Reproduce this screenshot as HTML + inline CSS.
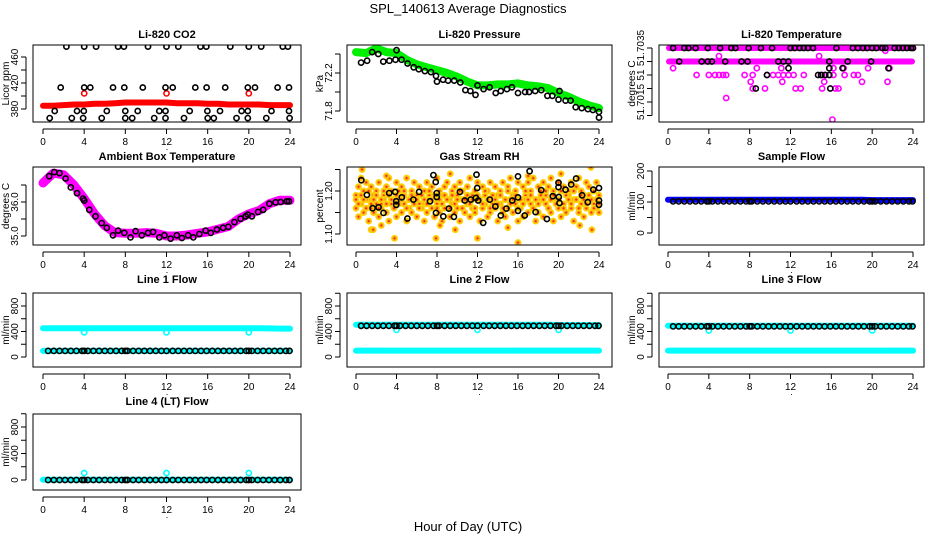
<!DOCTYPE html>
<html><head><meta charset="utf-8">
<style>
html,body{margin:0;padding:0;background:#fff;}
svg{display:block;font-family:"Liberation Sans",sans-serif;}
</style></head>
<body>
<svg id="chart" width="936" height="540" viewBox="0 0 936 540" xmlns="http://www.w3.org/2000/svg">
<rect x="0" y="0" width="936" height="540" fill="#fff"/>
<text x="468" y="13" text-anchor="middle" font-size="13">SPL_140613  Average Diagnostics</text>
<text x="468" y="531" text-anchor="middle" font-size="13">Hour of Day (UTC)</text>
</svg>
<script>
// ---- data ----
const bandHours = [0,1,2,3,4,5,6,7,8,9,10,11,12,13,14,15,16,17,18,19,20,21,22,23,24];
const xTicks = [0,4,8,12,16,20,24];
const flowHours = [0.5,1.05,1.6,2.15,2.7,3.25,3.8,4.0,4.35,4.9,5.45,6.0,6.55,7.1,7.65,8.0,8.2,8.75,9.3,9.85,10.4,10.95,11.5,12.0,12.6,13.15,13.7,14.25,14.8,15.35,15.9,16.45,17.0,17.55,18.1,18.65,19.2,19.75,20.0,20.3,20.85,21.4,21.95,22.5,23.05,23.6,23.95];
const outlierHours = [4,12,20];

// CO2
const co2Red = [385,385,386,387,387,388,388,389,390,390,390,390,390,389,389,389,388,388,387,387,387,387,386,386,386];
const co2RedOutliers = [404,404,404];
const co2TopHours = [2.27,4.0,5.16,7.3,7.86,10.2,12.0,13.15,15.3,15.87,18.2,20.0,21.2,23.3,23.8];
const co2TopVals = [476,476,476,476,476,476,476,476,476,476,476,476,476,476,476];
const co2MidHours = [1.72,4.0,4.6,6.8,7.9,9.7,11.9,12.6,14.8,15.9,17.7,19.9,20.6,22.8,23.9];
const co2MidVals = [413,413,413,413,413,413,413,413,413,413,413,413,413,413,413];
const co2LowHours = [1.14,3.3,3.96,6.2,8.0,9.2,11.3,11.9,14.25,15.97,17.2,19.3,19.9,22.2,23.9];
const co2LowVals = [377,377,377,377,377,377,377,377,377,377,377,377,377,377,377];
const co2BotHours = [0.65,2.8,3.9,5.7,8.0,8.67,10.8,11.9,13.7,16.0,16.6,18.8,19.9,21.7,23.96];
const co2BotVals = [366,366,366,366,366,366,366,366,366,366,366,366,366,366,366];

// Pressure
const presGreen = [72.42,72.41,72.46,72.42,72.41,72.34,72.29,72.26,72.23,72.20,72.16,72.11,72.07,72.07,72.08,72.08,72.09,72.07,72.06,72.04,71.99,71.95,71.90,71.86,71.83];
const presBlackHours = [0.5,1.1,1.6,2.2,2.7,3.3,3.9,4.0,4.5,5.1,5.7,6.2,6.8,7.4,7.9,8.0,8.6,9.1,9.7,10.3,10.8,11.3,11.8,12.0,12.6,13.2,13.8,14.3,14.9,15.4,16.0,16.7,17.1,17.7,18.3,18.9,19.4,20.0,20.1,20.7,21.2,21.7,22.3,22.9,23.4,24.0,24.0];
const presBlackVals = [72.31,72.33,72.42,72.40,72.32,72.33,72.34,72.44,72.34,72.30,72.26,72.24,72.22,72.21,72.17,72.11,72.13,72.12,72.12,72.10,72.02,72.01,71.97,72.07,72.03,72.05,71.99,72.01,72.03,72.05,71.99,72.00,72.00,72.01,72.02,71.96,71.96,71.92,72.01,71.91,71.91,71.84,71.83,71.82,71.81,71.79,71.73];

// Li-820 temperature
const tempTopBand = [51.7035,51.7035];
const tempMidBand = [51.7030,51.7030];
const tempBandHours = [0.1,23.9];
const tempMagHours = [0.5,8.7,11.1,16.2,17.2,19.6,21.7, 2.8,4.0,4.6,5.0,5.4,5.7,7.5,8.3,9.7,10.3,10.8,11.3,11.8,12.3,13.3,15.1,15.4,16.2,17.3,18.2,18.6, 8.1,11.2,15.3,19.0,21.5, 8.3,9.5,12.5,13.0,15.1,16.4,16.7, 5.7,16.1, 14.8,5.0,21.3];
const tempMagVals = [51.70275,51.70275,51.70275,51.70275,51.70275,51.70275,51.70275, 51.7025,51.7025,51.7025,51.7025,51.7025,51.7025,51.7025,51.7025,51.7025,51.7025,51.7025,51.7025,51.7025,51.7025,51.7025,51.7025,51.7025,51.7025,51.7025,51.7025,51.7025, 51.70225,51.70225,51.70225,51.70225,51.70225, 51.7020,51.7020,51.7020,51.7020,51.7020,51.7020,51.7020, 51.70165,51.70085, 51.7032,51.7032,51.7034];
const tempBlackHours = [0.5,1.6,2.0,2.7,3.9,5.1,6.2,6.6,7.9,9.1,10.2,12.0,12.4,12.9,13.3,13.7,14.2,16.5,18.1,18.6,19.1,19.5,20.0,20.4,21.0,21.3,22.2,22.6,23.0,23.4,23.8,24.0, 1.1,3.3,3.9,4.3,5.6,7.2,7.8,10.8,11.3,11.8,15.8,17.6,19.9, 11.8,15.8,17.1,21.6, 9.7,14.7,15.0,15.4,15.8, 8.6,15.9];
const tempBlackVals = [51.7035,51.7035,51.7035,51.7035,51.7035,51.7035,51.7035,51.7035,51.7035,51.7035,51.7035,51.7035,51.7035,51.7035,51.7035,51.7035,51.7035,51.7035,51.7035,51.7035,51.7035,51.7035,51.7035,51.7035,51.7035,51.7035,51.7035,51.7035,51.7035,51.7035,51.7035,51.7035, 51.7030,51.7030,51.7030,51.7030,51.7030,51.7030,51.7030,51.7030,51.7030,51.7030,51.7030,51.7030,51.7030, 51.70275,51.70275,51.70275,51.70275, 51.7025,51.7025,51.7025,51.7025,51.7025, 51.7020,51.7020];

// Ambient box temperature
const ambMag = [36.56,36.85,36.80,36.50,36.10,35.65,35.30,35.10,35.08,35.08,35.10,35.08,35.00,35.00,35.03,35.08,35.12,35.20,35.28,35.50,35.65,35.75,35.95,36.05,36.05];
const ambBlackHours = [0.6,1.1,1.6,2.2,2.7,3.3,3.9,4.0,4.5,5.1,5.7,6.2,6.8,7.3,7.9,8.5,9.0,9.6,10.2,10.7,11.3,11.8,12.4,13.0,13.5,14.1,14.6,15.2,15.8,16.3,16.9,17.5,18.0,18.6,19.2,19.7,19.9,20.3,20.9,21.4,22.0,22.6,23.1,23.7,23.9];
const ambBlackVals = [36.76,36.88,36.85,36.69,36.43,36.26,36.10,36.04,35.77,35.58,35.38,35.24,35.02,35.16,35.09,34.96,35.14,35.02,35.09,35.12,34.96,35.02,34.92,35.02,34.94,35.02,34.96,35.06,35.16,35.09,35.19,35.24,35.27,35.41,35.51,35.58,35.63,35.58,35.71,35.77,35.95,35.99,36.00,36.02,36.02];

// Gas stream RH
const rhHours = [0,0.25,0.5,0.75,1,1.25,1.5,1.75,2,2.25,2.5,2.75,3,3.25,3.5,3.75,4,4.25,4.5,4.75,5,5.25,5.5,5.75,6,6.25,6.5,6.75,7,7.25,7.5,7.75,8,8.25,8.5,8.75,9,9.25,9.5,9.75,10,10.25,10.5,10.75,11,11.25,11.5,11.75,12,12.25,12.5,12.75,13,13.25,13.5,13.75,14,14.25,14.5,14.75,15,15.25,15.5,15.75,16,16.25,16.5,16.75,17,17.25,17.5,17.75,18,18.25,18.5,18.75,19,19.25,19.5,19.75,20,20.25,20.5,20.75,21,21.25,21.5,21.75,22,22.25,22.5,22.75,23,23.25,23.5,23.75,24];
const rhOrangeA = [1.19,1.21,1.23,1.20,1.22,1.18,1.21,1.19,1.20,1.22,1.17,1.19,1.21,1.23,1.20,1.18,1.22,1.20,1.21,1.19,1.23,1.18,1.20,1.22,1.19,1.21,1.17,1.20,1.22,1.19,1.21,1.18,1.23,1.20,1.19,1.21,1.22,1.18,1.20,1.21,1.19,1.22,1.20,1.18,1.21,1.23,1.19,1.20,1.22,1.18,1.21,1.19,1.20,1.22,1.17,1.21,1.19,1.20,1.22,1.18,1.21,1.23,1.19,1.20,1.22,1.18,1.21,1.19,1.22,1.20,1.23,1.18,1.21,1.20,1.22,1.19,1.21,1.23,1.20,1.18,1.22,1.24,1.21,1.19,1.20,1.22,1.18,1.21,1.23,1.20,1.19,1.22,1.21,1.18,1.20,1.22,1.19];
const rhOrangeB = [1.16,1.14,1.17,1.15,1.18,1.13,1.16,1.15,1.17,1.14,1.16,1.18,1.15,1.13,1.17,1.16,1.14,1.18,1.15,1.17,1.13,1.16,1.15,1.18,1.14,1.17,1.16,1.13,1.15,1.18,1.16,1.14,1.17,1.15,1.13,1.16,1.18,1.14,1.17,1.15,1.16,1.13,1.18,1.15,1.17,1.14,1.16,1.15,1.18,1.13,1.16,1.17,1.14,1.15,1.18,1.16,1.13,1.17,1.15,1.14,1.16,1.18,1.15,1.17,1.13,1.16,1.14,1.18,1.15,1.17,1.16,1.13,1.15,1.18,1.14,1.17,1.16,1.15,1.13,1.18,1.16,1.14,1.17,1.15,1.19,1.16,1.13,1.18,1.15,1.17,1.14,1.16,1.18,1.15,1.17,1.16,1.15];
const rhOrangeC = [1.18,1.17,1.19,1.18,1.16,1.20,1.17,1.18,1.19,1.16,1.18,1.20,1.17,1.19,1.18,1.16,1.19,1.17,1.18,1.20,1.16,1.18,1.19,1.17,1.18,1.16,1.19,1.18,1.17,1.20,1.18,1.19,1.16,1.18,1.17,1.19,1.18,1.16,1.19,1.17,1.18,1.20,1.16,1.18,1.19,1.17,1.18,1.16,1.19,1.18,1.17,1.20,1.18,1.16,1.19,1.18,1.17,1.19,1.16,1.18,1.20,1.17,1.18,1.19,1.16,1.18,1.17,1.20,1.18,1.19,1.16,1.18,1.17,1.19,1.18,1.20,1.16,1.18,1.19,1.17,1.18,1.20,1.16,1.19,1.18,1.17,1.20,1.18,1.16,1.19,1.18,1.17,1.19,1.18,1.16,1.18,1.17];
const rhOutHours = [1.5,1.7,2.5,3.8,7.9,8.3,9.8,12.0,15.0,16.0,23.2,23.3,0.6,9.3,22.1,3.0,17.0];
const rhOutVals = [1.11,1.11,1.12,1.09,1.09,1.12,1.11,1.09,1.115,1.08,1.255,1.11,1.25,1.24,1.12,1.235,1.235];
const rhBlackHours = [0.52,1.08,1.64,2.23,2.72,3.28,3.87,3.97,3.97,4.52,5.08,5.67,6.23,7.31,7.64,7.87,7.97,7.97,7.9,8.62,9.18,9.67,10.26,10.75,11.34,11.84,11.9,11.97,12.07,12.56,13.21,13.77,14.3,14.85,15.44,16.0,16.0,16.0,16.66,17.15,17.74,18.3,18.85,19.44,20.0,20.0,20.03,20.1,20.69,21.25,21.74,22.33,22.89,23.44,24.0,24.0,24.0];
const rhBlackVals = [1.225,1.191,1.160,1.162,1.149,1.195,1.198,1.176,1.168,1.185,1.136,1.180,1.198,1.176,1.237,1.221,1.195,1.186,1.149,1.141,1.159,1.140,1.198,1.178,1.180,1.184,1.238,1.207,1.178,1.126,1.180,1.164,1.143,1.159,1.178,1.185,1.234,1.154,1.143,1.246,1.151,1.202,1.135,1.188,1.209,1.219,1.186,1.172,1.203,1.215,1.229,1.190,1.174,1.203,1.207,1.178,1.168];

// Flows
const sampleBlue = [107,107,107,107,107,107,107,107,107,107,107,107,107,107,107,107,107,107,107,107,106,106,106,106,106];
const sampleBlack = [102,102,102,102,102,102,102,102,102,102,102,102,102,102,102,102,102,102,102,102,102,102,102,102,102,102,102,102,102,102,102,102,102,102,102,102,102,102,102,102,102,102,102,102,102,102,102];
const line1CyanHigh = [450,450,450,450,450,450,450,450,450,450,450,450,450,450,450,450,450,450,450,450,450,450,448,446,446];
const line1CyanLow = [95,95,95,95,95,95,95,95,95,95,95,95,95,95,95,95,95,95,95,95,95,95,95,95,95];
const line1Outliers = [387,387,387];
const line1Black = [95,95,95,95,95,95,95,95,95,95,95,95,95,95,95,95,95,95,95,95,95,95,95,95,95,95,95,95,95,95,95,95,95,95,95,95,95,95,95,95,95,95,95,95,95,95,95];
const line2CyanHigh = [505,505,505,505,505,505,505,505,505,505,505,505,505,505,505,505,505,505,505,505,500,500,500,500,500];
const line2CyanLow = [100,100,100,100,100,100,100,100,100,100,100,100,100,100,100,100,100,100,100,100,100,100,100,100,100];
const line2Outliers = [425,425,425];
const line2Black = [490,490,490,490,490,490,490,490,490,490,490,490,490,490,490,490,490,490,490,490,490,490,490,490,490,490,490,490,490,490,490,490,490,490,490,490,490,490,490,490,490,490,490,490,490,490,490];
const line3CyanHigh = [490,490,490,490,490,490,490,490,490,490,490,490,490,490,490,490,490,490,490,490,490,490,490,490,490];
const line3CyanLow = [100,100,100,100,100,100,100,100,100,100,100,100,100,100,100,100,100,100,100,100,100,100,100,100,100];
const line3Outliers = [415,415,415];
const line3Black = [480,480,480,480,480,480,480,480,480,480,480,480,480,480,480,480,480,480,480,480,480,480,480,480,480,480,480,480,480,480,480,480,480,480,480,480,480,480,480,480,480,480,480,480,480,480,480];
const line4Cyan = [5,5,5,5,5,5,5,5,5,5,5,5,5,5,5,5,5,5,5,5,5,5,5,5,5];
const line4Outliers = [105,105,105];
const line4Black = [0,0,0,0,0,0,0,0,0,0,0,0,0,0,0,0,0,0,0,0,0,0,0,0,0,0,0,0,0,0,0,0,0,0,0,0,0,0,0,0,0,0,0,0,0,0,0];

// ---- layout ----
const NS = 'http://www.w3.org/2000/svg';
const svg = document.getElementById('chart');
const COLS = [{bx0:33,bx1:301,x0:43,x24:290},{bx0:347,bx1:612,x0:356,x24:599},{bx0:659,bx1:924,x0:668,x24:913}];
const ROWS = [{by0:45,by1:122,ty:38},{by0:167,by1:245,ty:160},{by0:293,by1:367,ty:283},{by0:414,by1:490,ty:405}];
function mk(tag, attrs, parent){
  const e = document.createElementNS(NS, tag);
  for (const k in attrs) e.setAttribute(k, attrs[k]);
  (parent||svg).appendChild(e);
  return e;
}
let clipId = 0;
function panel(cfg){
  const C = COLS[cfg.col], R = ROWS[cfg.row];
  const sx = h => C.x0 + (C.x24 - C.x0) * h / 24;
  const [v1,p1,v2,p2] = cfg.ymap;
  const sy = v => p1 + (v - v1) * (p2 - p1) / (v2 - v1);
  const g = mk('g', {});
  
  
  const t = mk('text', {x:(C.bx0+C.bx1)/2, y:R.ty, 'text-anchor':'middle', 'font-size':'11', 'font-weight':'bold'}, g);
  t.textContent = cfg.title;
  
  
  clipId++;
  const cp = mk('clipPath', {id:'c'+clipId}, g);
  mk('rect', {x:C.bx0, y:R.by0, width:C.bx1-C.bx0, height:R.by1-R.by0}, cp);
  const plot = mk('g', {'clip-path':'url(#c'+clipId+')'}, g);
  
  
  cfg.series.forEach(s => {
    if (s.type === 'band') {
      const pts = s.x.map((h,i) => i < s.y.length ? sx(h).toFixed(1)+','+sy(s.y[i]).toFixed(1) : null).filter(Boolean).join(' ');
      const pl = mk('polyline', {points:pts, fill:'none', stroke:s.color, 'stroke-width':s.w, 'stroke-linecap':'round', 'stroke-linejoin':'round'}, plot);
      
      
    } else {
      const n = Math.min(s.x.length, s.y.length);
      for (let i = 0; i < n; i++) {
        const c = mk('circle', {cx:sx(s.x[i]).toFixed(1), cy:sy(s.y[i]).toFixed(1), r:s.r||2.6, fill:s.fill||'none', stroke:s.color, 'stroke-width':s.sw||1.6}, plot);
        
        
        if (s.dot) {
          const d = mk('circle', {cx:sx(s.x[i]).toFixed(1), cy:sy(s.y[i]).toFixed(1), r:1, fill:s.dot}, plot);
          
          
        }
      }
    }
  });
  const box = mk('rect', {x:C.bx0, y:R.by0, width:C.bx1-C.bx0, height:R.by1-R.by0, fill:'none', stroke:'#000', 'stroke-width':1}, g);
  
  
  const xa = mk('g', {}, g);
  
  
  mk('line', {x1:sx(xTicks[0]), x2:sx(xTicks[xTicks.length-1]), y1:R.by1+7, y2:R.by1+7, stroke:'#000'}, xa);
  xTicks.forEach(v => {
    mk('line', {x1:sx(v), x2:sx(v), y1:R.by1+7, y2:R.by1+12, stroke:'#000'}, xa);
    const tl = mk('text', {x:sx(v), y:R.by1+23, 'text-anchor':'middle', 'font-size':'10'}, xa);
    tl.textContent = v;
    
    
  });
  const dot = mk('text', {x:(C.bx0+C.bx1)/2, y:R.by1+28, 'text-anchor':'middle', 'font-size':'9'}, xa);
  dot.textContent = '.';
  const ya = mk('g', {}, g);
  
  
  const ax = C.bx0 - 7;
  const ys = cfg.yticks.map(sy);
  mk('line', {x1:ax, x2:ax, y1:Math.min(...ys), y2:Math.max(...ys), stroke:'#000'}, ya);
  cfg.yticks.forEach((v,i) => {
    const y = sy(v);
    mk('line', {x1:ax-5, x2:ax, y1:y, y2:y, stroke:'#000'}, ya);
    if (cfg.ylabels[i]) {
      const tl = mk('text', {x:0, y:0, transform:'translate('+(ax-8)+','+y.toFixed(1)+') rotate(-90)', 'text-anchor':'middle', 'font-size':'10'}, ya);
      tl.textContent = cfg.ylabels[i];
      
      
    }
  });
  const yt = mk('text', {x:0, y:0, transform:'translate('+(C.bx0-24)+','+((R.by0+R.by1)/2)+') rotate(-90)', 'text-anchor':'middle', 'font-size':'10'}, ya);
  yt.textContent = cfg.ylab;
  
  
}

const ORANGE = {fill:'#f5a623', color:'#ffd400', sw:1.3, r:2.8, dot:'#ff2000'};

panel({name:'co2-panel', col:0, row:0, title:'Li-820 CO2', ylab:'Licor ppm', ymap:[380,109,460,57],
  yticks:[380,400,420,440,460], ylabels:['380','','420','','460'],
  series:[
    {type:'band', name:'co2-red-band', x:bandHours, y:co2Red, color:'#ff0000', w:6},
    {type:'pts', name:'co2-red-outlier', x:outlierHours, y:co2RedOutliers, color:'#ff0000'},
    {type:'pts', name:'co2-black-point', x:co2TopHours, y:co2TopVals, color:'#000'},
    {type:'pts', name:'co2-black-point', x:co2MidHours, y:co2MidVals, color:'#000'},
    {type:'pts', name:'co2-black-point', x:co2LowHours, y:co2LowVals, color:'#000'},
    {type:'pts', name:'co2-black-point', x:co2BotHours, y:co2BotVals, color:'#000'}
  ]});
panel({name:'pressure-panel', col:1, row:0, title:'Li-820 Pressure', ylab:'kPa', ymap:[72.2,73,71.8,111],
  yticks:[71.8,72.0,72.2,72.4], ylabels:['71.8','','72.2',''],
  series:[
    {type:'band', name:'pressure-green-band', x:bandHours, y:presGreen, color:'#00ee00', w:8},
    {type:'pts', name:'pressure-black-point', x:presBlackHours, y:presBlackVals, color:'#000'}
  ]});
panel({name:'li820-temp-panel', col:2, row:0, title:'Li-820 Temperature', ylab:'degrees C', ymap:[51.7035,48,51.7015,102],
  yticks:[51.7035,51.7030,51.7025,51.7020,51.7015,51.7010], ylabels:['51.7035','','51','','51.7015',''],
  series:[
    {type:'band', name:'temp-magenta-band', x:tempBandHours, y:tempTopBand, color:'#ff00ff', w:6},
    {type:'band', name:'temp-magenta-band', x:tempBandHours, y:tempMidBand, color:'#ff00ff', w:6},
    {type:'pts', name:'temp-magenta-point', x:tempMagHours, y:tempMagVals, color:'#ff00ff'},
    {type:'pts', name:'temp-black-point', x:tempBlackHours, y:tempBlackVals, color:'#000'}
  ]});
panel({name:'ambient-panel', col:0, row:1, title:'Ambient Box Temperature', ylab:'degrees C', ymap:[36,202,35,236],
  yticks:[35.0,35.5,36.0,36.5], ylabels:['35.0','','36.0',''],
  series:[
    {type:'band', name:'ambient-magenta-band', x:bandHours, y:ambMag, color:'#ff00ff', w:9},
    {type:'pts', name:'ambient-black-point', x:ambBlackHours, y:ambBlackVals, color:'#000'}
  ]});
panel({name:'rh-panel', col:1, row:1, title:'Gas Stream RH', ylab:'percent', ymap:[1.2,191,1.1,234],
  yticks:[1.10,1.15,1.20,1.25], ylabels:['1.10','','1.20',''],
  series:[
    Object.assign({type:'pts', name:'rh-orange-point', x:rhHours, y:rhOrangeA}, ORANGE),
    Object.assign({type:'pts', name:'rh-orange-point', x:rhHours, y:rhOrangeB}, ORANGE),
    Object.assign({type:'pts', name:'rh-orange-point', x:rhHours, y:rhOrangeC}, ORANGE),
    Object.assign({type:'pts', name:'rh-orange-point', x:rhOutHours, y:rhOutVals}, ORANGE),
    {type:'pts', name:'rh-black-point', x:rhBlackHours, y:rhBlackVals, color:'#000'}
  ]});
panel({name:'sample-flow-panel', col:2, row:1, title:'Sample Flow', ylab:'ml/min', ymap:[0,233,200,171],
  yticks:[0,50,100,150,200], ylabels:['0','','100','','200'],
  series:[
    {type:'band', name:'sample-blue-band', x:bandHours, y:sampleBlue, color:'#0000ff', w:6},
    {type:'pts', name:'sample-black-point', x:flowHours, y:sampleBlack, color:'#000'}
  ]});
const flowTicks = [0,200,400,600,800,1000], flowLabels = ['0','','400','','800',''];
panel({name:'line1-flow-panel', col:0, row:2, title:'Line 1 Flow', ylab:'ml/min', ymap:[0,357,800,306],
  yticks:flowTicks, ylabels:flowLabels,
  series:[
    {type:'band', name:'line1-cyan-band', x:bandHours, y:line1CyanHigh, color:'#00ffff', w:6},
    {type:'band', name:'line1-cyan-band', x:bandHours, y:line1CyanLow, color:'#00ffff', w:6},
    {type:'pts', name:'line1-cyan-outlier', x:outlierHours, y:line1Outliers, color:'#00ffff'},
    {type:'pts', name:'line1-black-point', x:flowHours, y:line1Black, color:'#000'}
  ]});
panel({name:'line2-flow-panel', col:1, row:2, title:'Line 2 Flow', ylab:'ml/min', ymap:[0,357,800,306],
  yticks:flowTicks, ylabels:flowLabels,
  series:[
    {type:'band', name:'line2-cyan-band', x:bandHours, y:line2CyanHigh, color:'#00ffff', w:6},
    {type:'band', name:'line2-cyan-band', x:bandHours, y:line2CyanLow, color:'#00ffff', w:6},
    {type:'pts', name:'line2-cyan-outlier', x:outlierHours, y:line2Outliers, color:'#00ffff'},
    {type:'pts', name:'line2-black-point', x:flowHours, y:line2Black, color:'#000'}
  ]});
panel({name:'line3-flow-panel', col:2, row:2, title:'Line 3 Flow', ylab:'ml/min', ymap:[0,357,800,306],
  yticks:flowTicks, ylabels:flowLabels,
  series:[
    {type:'band', name:'line3-cyan-band', x:bandHours, y:line3CyanHigh, color:'#00ffff', w:6},
    {type:'band', name:'line3-cyan-band', x:bandHours, y:line3CyanLow, color:'#00ffff', w:6},
    {type:'pts', name:'line3-cyan-outlier', x:outlierHours, y:line3Outliers, color:'#00ffff'},
    {type:'pts', name:'line3-black-point', x:flowHours, y:line3Black, color:'#000'}
  ]});
panel({name:'line4-flow-panel', col:0, row:3, title:'Line 4 (LT) Flow', ylab:'ml/min', ymap:[0,480,800,427],
  yticks:flowTicks, ylabels:flowLabels,
  series:[
    {type:'band', name:'line4-cyan-band', x:bandHours, y:line4Cyan, color:'#00ffff', w:6},
    {type:'pts', name:'line4-cyan-outlier', x:outlierHours, y:line4Outliers, color:'#00ffff'},
    {type:'pts', name:'line4-black-point', x:flowHours, y:line4Black, color:'#000'}
  ]});
</script>
</body></html>
